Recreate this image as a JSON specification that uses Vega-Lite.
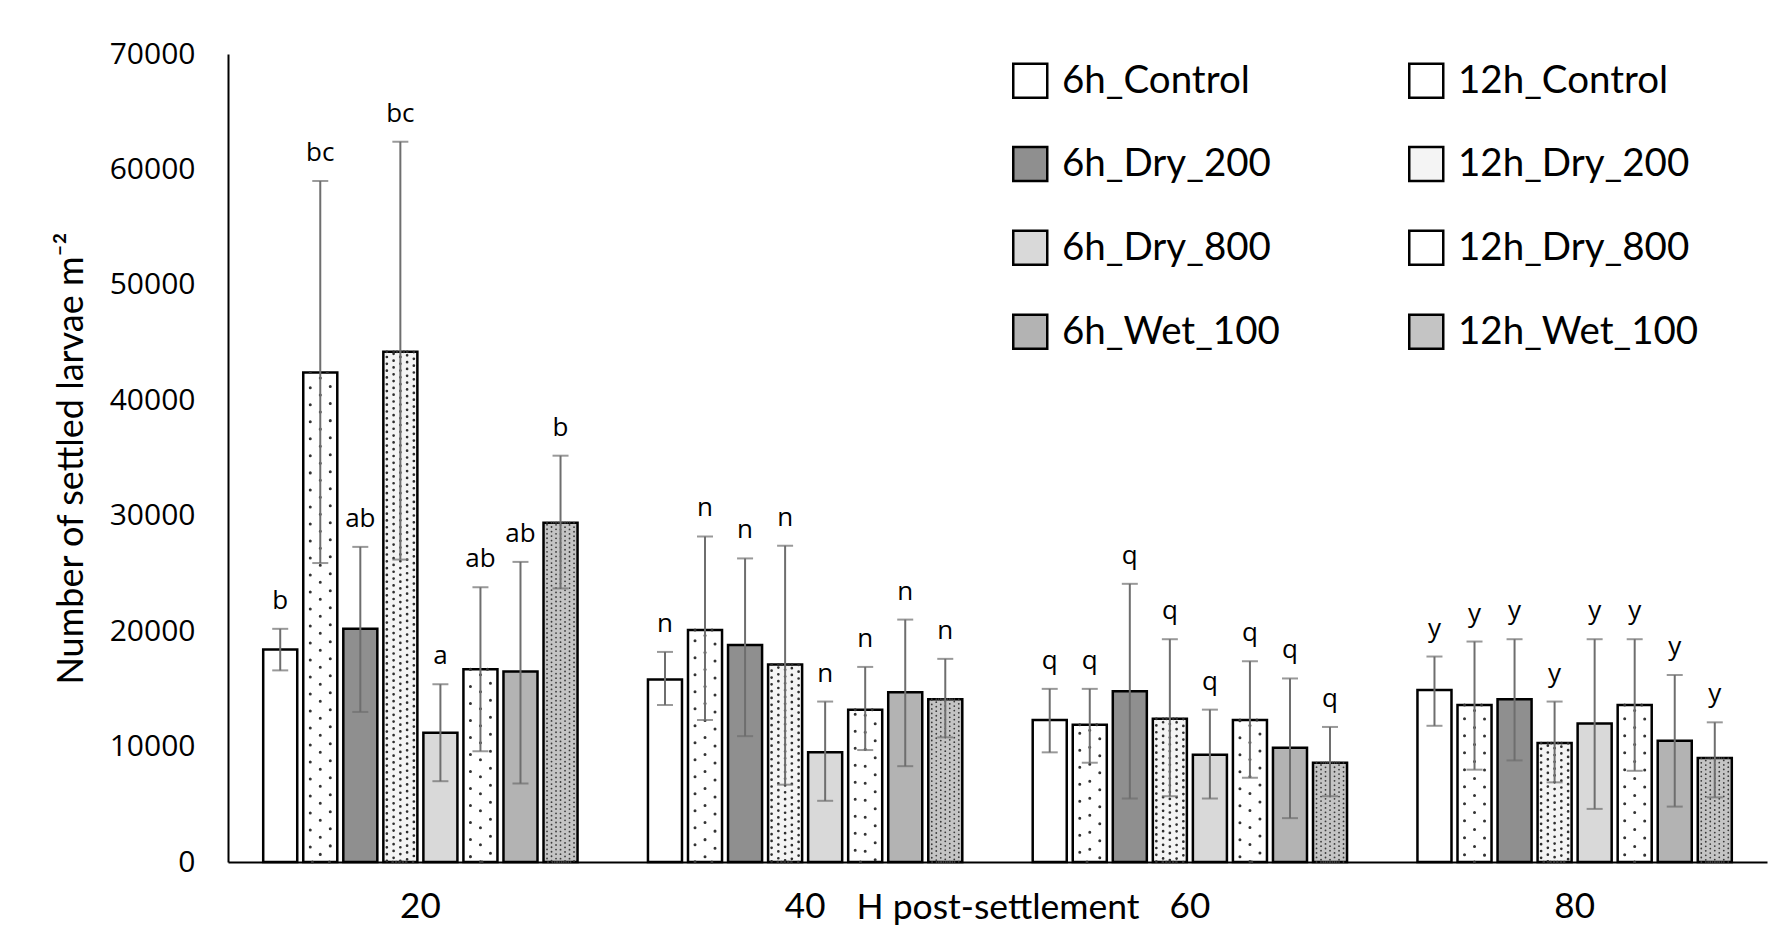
{
  "$schema": "https://vega.github.io/schema/vega-lite/v6.json",
  "autosize": {"type": "none"},
  "padding": {"left": 228, "top": 54, "right": 18, "bottom": 82},
  "width": 1539,
  "height": 808,
  "background": "white",
  "config": {
    "view": {"stroke": null},
    "legend": {
      "orient": "none", "legendX": 783, "legendY": 7, "columns": 2, "gridAlign": "each",
      "symbolType": "square", "symbolSize": 1156, "symbolStrokeColor": "black", "symbolStrokeWidth": 2.5,
      "labelFont": "Lato", "labelFontSize": 38.5, "labelColor": "black", "labelOffset": 12.5, "labelLimit": 0,
      "rowPadding": 38.8, "columnPadding": 124, "padding": 0, "title": null
    }
  },
  "data": {"values": [
    {"t": "20", "s": "6h_Control", "v": 18400, "lo": 16600, "hi": 20200, "sig": "b"},
    {"t": "20", "s": "12h_Control", "v": 42400, "lo": 25900, "hi": 59000, "sig": "bc"},
    {"t": "20", "s": "6h_Dry_200", "v": 20200, "lo": 13000, "hi": 27300, "sig": "ab"},
    {"t": "20", "s": "12h_Dry_200", "v": 44200, "lo": 26200, "hi": 62400, "sig": "bc"},
    {"t": "20", "s": "6h_Dry_800", "v": 11200, "lo": 7000, "hi": 15400, "sig": "a"},
    {"t": "20", "s": "12h_Dry_800", "v": 16700, "lo": 9600, "hi": 23800, "sig": "ab"},
    {"t": "20", "s": "6h_Wet_100", "v": 16500, "lo": 6800, "hi": 26000, "sig": "ab"},
    {"t": "20", "s": "12h_Wet_100", "v": 29400, "lo": 23700, "hi": 35200, "sig": "b"},
    {"t": "40", "s": "6h_Control", "v": 15800, "lo": 13600, "hi": 18200, "sig": "n"},
    {"t": "40", "s": "12h_Control", "v": 20100, "lo": 12300, "hi": 28200, "sig": "n"},
    {"t": "40", "s": "6h_Dry_200", "v": 18800, "lo": 10900, "hi": 26300, "sig": "n"},
    {"t": "40", "s": "12h_Dry_200", "v": 17100, "lo": 6700, "hi": 27400, "sig": "n"},
    {"t": "40", "s": "6h_Dry_800", "v": 9500, "lo": 5300, "hi": 13900, "sig": "n"},
    {"t": "40", "s": "12h_Dry_800", "v": 13200, "lo": 9700, "hi": 16900, "sig": "n"},
    {"t": "40", "s": "6h_Wet_100", "v": 14700, "lo": 8300, "hi": 21000, "sig": "n"},
    {"t": "40", "s": "12h_Wet_100", "v": 14100, "lo": 10800, "hi": 17600, "sig": "n"},
    {"t": "60", "s": "6h_Control", "v": 12300, "lo": 9500, "hi": 15000, "sig": "q"},
    {"t": "60", "s": "12h_Control", "v": 11900, "lo": 8600, "hi": 15000, "sig": "q"},
    {"t": "60", "s": "6h_Dry_200", "v": 14800, "lo": 5500, "hi": 24100, "sig": "q"},
    {"t": "60", "s": "12h_Dry_200", "v": 12400, "lo": 5700, "hi": 19300, "sig": "q"},
    {"t": "60", "s": "6h_Dry_800", "v": 9300, "lo": 5500, "hi": 13200, "sig": "q"},
    {"t": "60", "s": "12h_Dry_800", "v": 12300, "lo": 7300, "hi": 17400, "sig": "q"},
    {"t": "60", "s": "6h_Wet_100", "v": 9900, "lo": 3800, "hi": 15900, "sig": "q"},
    {"t": "60", "s": "12h_Wet_100", "v": 8600, "lo": 5700, "hi": 11700, "sig": "q"},
    {"t": "80", "s": "6h_Control", "v": 14900, "lo": 11800, "hi": 17800, "sig": "y"},
    {"t": "80", "s": "12h_Control", "v": 13600, "lo": 8000, "hi": 19100, "sig": "y"},
    {"t": "80", "s": "6h_Dry_200", "v": 14100, "lo": 8800, "hi": 19300, "sig": "y"},
    {"t": "80", "s": "12h_Dry_200", "v": 10300, "lo": 6900, "hi": 13900, "sig": "y"},
    {"t": "80", "s": "6h_Dry_800", "v": 12000, "lo": 4600, "hi": 19300, "sig": "y"},
    {"t": "80", "s": "12h_Dry_800", "v": 13600, "lo": 7900, "hi": 19300, "sig": "y"},
    {"t": "80", "s": "6h_Wet_100", "v": 10500, "lo": 4800, "hi": 16200, "sig": "y"},
    {"t": "80", "s": "12h_Wet_100", "v": 9000, "lo": 5600, "hi": 12100, "sig": "y"}
  ]},
  "encoding": {
    "x": {"field": "t", "type": "nominal",
      "scale": {"domain": ["20", "40", "60", "80"], "paddingInner": 0.183, "paddingOuter": 0.0915},
      "axis": {"title": "H post-settlement", "labelAngle": 0, "ticks": false, "domainColor": "black", "domainWidth": 2,
        "labelFont": "Lato", "labelFontSize": 35, "labelColor": "black", "labelPadding": 27,
        "titleFont": "Lato", "titleFontSize": 35.5, "titleFontWeight": "normal", "titleColor": "black",
        "titleY": 45, "titleBaseline": "middle"}},
    "xOffset": {"field": "s", "type": "nominal",
      "scale": {"domain": ["6h_Control", "12h_Control", "6h_Dry_200", "12h_Dry_200", "6h_Dry_800", "12h_Dry_800", "6h_Wet_100", "12h_Wet_100"], "paddingInner": 0.15, "paddingOuter": 0}}
  },
  "layer": [
    {
      "mark": {"type": "bar", "stroke": "black", "strokeWidth": 2.5},
      "encoding": {
        "y": {"field": "v", "type": "quantitative",
          "scale": {"domain": [0, 70000], "nice": false},
          "axis": {"values": [0, 10000, 20000, 30000, 40000, 50000, 60000, 70000], "format": "d", "grid": false, "ticks": false,
            "domainColor": "black", "domainWidth": 2, "labelFont": "Open Sans", "labelFontSize": 30, "labelColor": "black",
            "labelPadding": 33, "title": "Number of settled larvae m⁻²", "titleFont": "Lato", "titleFontSize": 36,
            "titleFontWeight": "normal", "titleColor": "black", "titleX": -157, "titleY": 404,
            "titleAngle": -90, "titleBaseline": "middle", "titleAlign": "center"}},
        "fill": {"field": "s", "type": "nominal",
          "scale": {"domain": ["6h_Control", "6h_Dry_200", "6h_Dry_800", "6h_Wet_100", "12h_Control", "12h_Dry_200", "12h_Dry_800", "12h_Wet_100"],
            "range": ["#ffffff", "#8f8f8f", "#d9d9d9", "#b3b3b3", "#ffffff", "#f4f4f4", "#ffffff", "#c4c4c4"]}}
      }
    },
    {
      "transform": [{"filter": {"field": "s", "oneOf": ["12h_Control", "12h_Dry_800"]}}],
      "mark": {"type": "bar", "width": 20, "fill": "white", "fillOpacity": 0, "stroke": "#333333", "strokeWidth": 3,
        "strokeDash": [0.01, 17], "strokeCap": "round"},
      "encoding": {"y": {"field": "v", "type": "quantitative"}}
    },
    {
      "transform": [{"filter": {"field": "s", "oneOf": ["12h_Control", "12h_Dry_800"]}}],
      "mark": {"type": "rule", "stroke": "#333333", "strokeWidth": 3, "strokeDash": [0.01, 17], "strokeCap": "round", "strokeDashOffset": 11.5},
      "encoding": {"y": {"field": "v", "type": "quantitative"}, "y2": {"datum": 0}}
    },
    {
      "transform": [{"filter": {"field": "s", "equal": "12h_Dry_200"}}],
      "mark": {"type": "bar", "width": 27, "fill": "white", "fillOpacity": 0, "stroke": "#2e2e2e", "strokeWidth": 2.7,
        "strokeDash": [0.01, 6.8], "strokeCap": "round"},
      "encoding": {"y": {"field": "v", "type": "quantitative"}}
    },
    {
      "transform": [{"filter": {"field": "s", "equal": "12h_Dry_200"}}],
      "mark": {"type": "bar", "width": 13.5, "fill": "white", "fillOpacity": 0, "stroke": "#2e2e2e", "strokeWidth": 2.7,
        "strokeDash": [0.01, 6.8], "strokeCap": "round", "strokeDashOffset": 3.4},
      "encoding": {"y": {"field": "v", "type": "quantitative"}}
    },
    {
      "transform": [{"filter": {"field": "s", "equal": "12h_Dry_200"}}],
      "mark": {"type": "rule", "stroke": "#2e2e2e", "strokeWidth": 2.7, "strokeDash": [0.01, 6.8], "strokeCap": "round", "strokeDashOffset": 1.7},
      "encoding": {"y": {"field": "v", "type": "quantitative"}, "y2": {"datum": 0}}
    },
    {
      "transform": [{"filter": {"field": "s", "equal": "12h_Wet_100"}}],
      "mark": {"type": "bar", "width": 27, "fill": "white", "fillOpacity": 0, "stroke": "#3a3a3a", "strokeWidth": 1.8,
        "strokeDash": [0.01, 4.5], "strokeCap": "round"},
      "encoding": {"y": {"field": "v", "type": "quantitative"}}
    },
    {
      "transform": [{"filter": {"field": "s", "equal": "12h_Wet_100"}}],
      "mark": {"type": "bar", "width": 18, "fill": "white", "fillOpacity": 0, "stroke": "#3a3a3a", "strokeWidth": 1.8,
        "strokeDash": [0.01, 4.5], "strokeCap": "round", "strokeDashOffset": 2.25},
      "encoding": {"y": {"field": "v", "type": "quantitative"}}
    },
    {
      "transform": [{"filter": {"field": "s", "equal": "12h_Wet_100"}}],
      "mark": {"type": "bar", "width": 9, "fill": "white", "fillOpacity": 0, "stroke": "#3a3a3a", "strokeWidth": 1.8,
        "strokeDash": [0.01, 4.5], "strokeCap": "round"},
      "encoding": {"y": {"field": "v", "type": "quantitative"}}
    },
    {
      "transform": [{"filter": {"field": "s", "equal": "12h_Wet_100"}}],
      "mark": {"type": "rule", "stroke": "#3a3a3a", "strokeWidth": 1.8, "strokeDash": [0.01, 4.5], "strokeCap": "round", "strokeDashOffset": 2.25},
      "encoding": {"y": {"field": "v", "type": "quantitative"}, "y2": {"datum": 0}}
    },
    {
      "mark": {"type": "rule", "color": "#6e6e6e", "strokeWidth": 2},
      "encoding": {"y": {"field": "lo", "type": "quantitative"}, "y2": {"field": "hi"}}
    },
    {
      "mark": {"type": "tick", "color": "#6e6e6e", "thickness": 2, "size": 16},
      "encoding": {"y": {"field": "hi", "type": "quantitative"}}
    },
    {
      "mark": {"type": "tick", "color": "#6e6e6e", "thickness": 2, "size": 16},
      "encoding": {"y": {"field": "lo", "type": "quantitative"}}
    },
    {
      "mark": {"type": "text", "baseline": "middle", "align": "center", "dy": -28, "font": "Open Sans", "fontSize": 26, "color": "black"},
      "encoding": {"y": {"field": "hi", "type": "quantitative"}, "text": {"field": "sig"}}
    }
  ]
}
